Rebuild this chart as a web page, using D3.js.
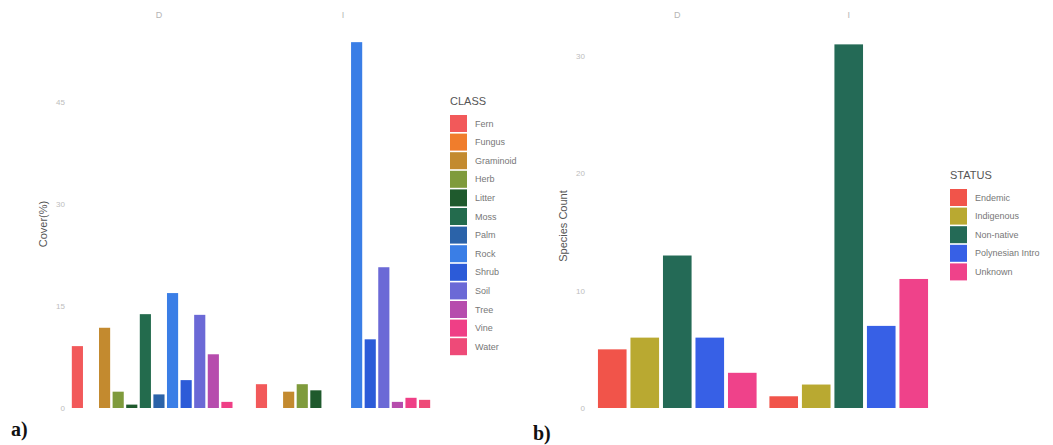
<!DOCTYPE html>
<html>
<head>
<meta charset="utf-8">
<script src="https://cdn.jsdelivr.net/npm/d3@7.9.0/dist/d3.min.js"></script>
<style>
  body { margin: 0; background: #fff; }
  svg { display: block; font-family: "Liberation Sans", Arial, sans-serif; }
  .tick-label { fill: #bdbdbd; font-size: 8px; }
  .facet-label { fill: #b5b5b5; font-size: 9px; }
  .axis-title { fill: #555; font-size: 11px; }
  .legend-title { fill: #555; font-size: 11px; }
  .legend-label { fill: #777; font-size: 9px; }
  .panel-tag { font-family: "Liberation Serif", "Times New Roman", serif; font-weight: bold; font-size: 20px; fill: #111; }
</style>
</head>
<body>
<svg id="chart" width="1053" height="445"></svg>
<script>
// ========== Data ==========
const facets = ['D', 'I'];

// panel a) cover by class
const classes = ['Fern', 'Fungus', 'Graminoid', 'Herb', 'Litter', 'Moss', 'Palm',
  'Rock', 'Shrub', 'Soil', 'Tree', 'Vine', 'Water'];
const classColors = ['#f2595a', '#f07d2c', '#c38a2f', '#7f9b3c', '#1f5a2d', '#236b4d',
  '#2b63a9', '#3a7ee6', '#2c5bd8', '#6b69d6', '#b64cad', '#ef3f86', '#ee4a78'];
// null = class not present in that facet
const coverD = [9.1, null, 11.8, 2.4, 0.5, 13.8, 2.0, 16.9, 4.1, 13.7, 7.9, 0.9, null];
const coverI = [3.5, null, 2.4, 3.5, 2.6, null, null, 53.8, 10.1, 20.7, 0.9, 1.5, 1.2];
const coverTicks = [0, 15, 30, 45];

// panel b) species count by status
const statuses = ['Endemic', 'Indigenous', 'Non-native', 'Polynesian Intro', 'Unknown'];
const statusColors = ['#f1544a', '#b9a931', '#246a56', '#3760e6', '#ef428a'];
const countD = [5, 6, 13, 6, 3];
const countI = [1, 2, 31, 7, 11];
const countTicks = [0, 10, 20, 30];

const svg = d3.select('#chart');

// ========== Draw one faceted panel ==========
function drawPanel(opts) {
  const g = svg.append('g');

  const fx = d3.scaleBand().domain(facets).range(opts.xRange).paddingInner(opts.facetPad);
  const x = d3.scaleBand().domain(opts.cats).range([0, fx.bandwidth()])
    .paddingInner(opts.barPad).paddingOuter(opts.barPad / 2);
  const y = d3.scaleLinear().domain(opts.yDomain).range([408, opts.yTop]);
  const color = d3.scaleOrdinal().domain(opts.cats).range(opts.colors);

  // facet strip labels
  g.selectAll('.facet-label')
    .data(facets)
    .join('text')
    .attr('class', 'facet-label')
    .attr('x', (d) => fx(d) + fx.bandwidth() / 2)
    .attr('y', 18)
    .attr('text-anchor', 'middle')
    .text((d) => d);

  // bars
  opts.series.forEach((vals, fi) => {
    const rows = opts.cats.map((c, i) => ({ cat: c, value: vals[i] }))
      .filter((d) => d.value != null);
    g.append('g')
      .attr('transform', `translate(${fx(facets[fi])},0)`)
      .selectAll('rect')
      .data(rows)
      .join('rect')
      .attr('x', (d) => x(d.cat))
      .attr('width', x.bandwidth())
      .attr('y', (d) => y(d.value))
      .attr('height', (d) => y(0) - y(d.value))
      .attr('fill', (d) => color(d.cat));
  });

  // y axis tick labels (no lines)
  g.selectAll('.tick-label')
    .data(opts.ticks)
    .join('text')
    .attr('class', 'tick-label')
    .attr('x', opts.tickX)
    .attr('y', (d) => y(d))
    .attr('dy', '0.35em')
    .attr('text-anchor', 'end')
    .text((d) => d);

  g.append('text')
    .attr('class', 'axis-title')
    .attr('transform', `translate(${opts.titleX},${opts.titleY}) rotate(-90)`)
    .attr('text-anchor', 'middle')
    .attr('dy', '0.35em')
    .text(opts.yTitle);

  // legend
  const lg = g.append('g').attr('transform', `translate(${opts.legendX},${opts.legendY})`);
  lg.append('text').attr('class', 'legend-title').attr('x', 0).attr('y', 0).text(opts.legendTitle);
  const items = lg.selectAll('.item')
    .data(opts.cats)
    .join('g')
    .attr('class', 'item')
    .attr('transform', (d, i) => `translate(0,${10 + i * 18.6})`);
  items.append('rect')
    .attr('width', 17).attr('height', 17)
    .attr('fill', (d) => color(d));
  items.append('text')
    .attr('class', 'legend-label')
    .attr('x', 25).attr('y', 8.5).attr('dy', '0.35em')
    .text((d) => d);

  g.append('text')
    .attr('class', 'panel-tag')
    .attr('x', opts.tagX).attr('y', opts.tagY)
    .text(opts.tag);
}

drawPanel({
  cats: classes, colors: classColors, series: [coverD, coverI],
  xRange: [70.6, 431.4], facetPad: 0.04, barPad: 0.18,
  yDomain: [0, 56], yTop: 408 - 56 * 6.8, ticks: coverTicks, tickX: 65,
  yTitle: 'Cover(%)', titleX: 43, titleY: 224,
  legendTitle: 'CLASS', legendX: 450, legendY: 105,
  tag: 'a)', tagX: 11, tagY: 436
});

drawPanel({
  cats: statuses, colors: statusColors, series: [countD, countI],
  xRange: [596, 930], facetPad: 0.052, barPad: 0.12,
  yDomain: [0, 32.5], yTop: 408 - 32.5 * 11.73, ticks: countTicks, tickX: 585,
  yTitle: 'Species Count', titleX: 563, titleY: 226,
  legendTitle: 'STATUS', legendX: 950, legendY: 179,
  tag: 'b)', tagX: 533, tagY: 440
});
</script>
</body>
</html>
